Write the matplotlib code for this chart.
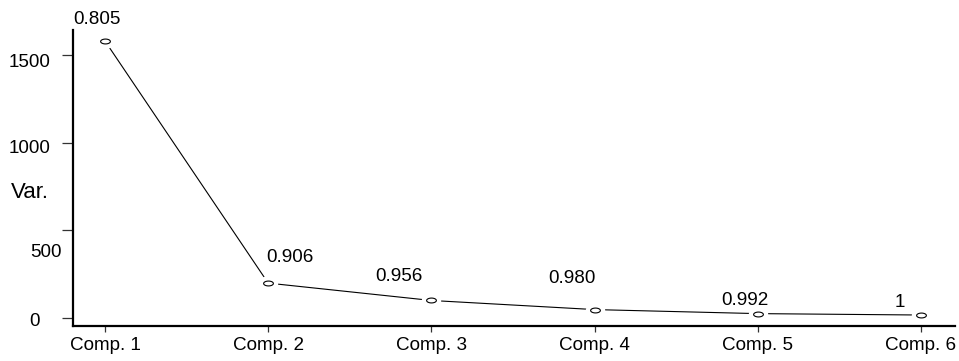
import numpy as np
import matplotlib
matplotlib.use("Agg")
import matplotlib.pyplot as plt
from matplotlib.path import Path

plt.rcParams['font.family'] = ['Liberation Sans', 'DejaVu Sans']

# ---- data ----
components = ["Comp. 1", "Comp. 2", "Comp. 3", "Comp. 4", "Comp. 5", "Comp. 6"]
variances = [1580, 199, 100, 48, 25, 17]
cum_labels = ["0.805", "0.906", "0.956", "0.980", "0.992", "1"]
ytick_values = [0, 500, 1000, 1500]
ytick_labels = ["0", "500", "1000", "1500"]

# ---- label placement (pixel offsets) ----
cum_offsets = [(-8, 22), (22, 26), (-32, 24), (-23, 31), (-13, 13), (-21, 13)]
ytick_offsets = [(-39, -3), (-27, -22), (-43, -6), (-43, -7)]

FS = 13.6

fig = plt.figure(figsize=(9.59, 3.61), dpi=100)
ax = fig.add_axes([73/959, 1 - 326/361, (955-73)/959, (326-30)/361])

x = np.arange(1, len(components) + 1)

# ellipse marker
t = np.linspace(0, 2*np.pi, 60)
ell = Path(np.column_stack([np.cos(t) * 1.0, np.sin(t) * 0.5]), closed=True)

ax.plot(x, variances, color='black', lw=0.8, zorder=1, solid_capstyle='butt')
ax.plot(x, variances, ls='none', marker=ell, markersize=7.0, mfc='white',
        mec='white', mew=7, zorder=2)
ax.plot(x, variances, ls='none', marker=ell, markersize=7.0, mfc='white',
        mec='black', mew=0.8, zorder=3)

for xi, yi, lab, (dx, dy) in zip(x, variances, cum_labels, cum_offsets):
    ax.annotate(lab, xy=(xi, yi), xytext=(dx * 0.72, dy * 0.72),
                textcoords='offset points', ha='center', va='center',
                fontsize=FS, annotation_clip=False)

ax.set_xlim(1 + (73 - 105) / 163.2, 6 + (955 - 921) / 163.2)
ax.set_ylim((318 - 326) / 0.1753, (318 - 30) / 0.1753)

ax.set_xticks(x)
ax.set_xticklabels(components, fontsize=FS)
ax.set_yticks(ytick_values)
ax.set_yticklabels([])
for val, lab, (dx, dy) in zip(ytick_values, ytick_labels, ytick_offsets):
    ax.annotate(lab, xy=(0, val), xycoords=('axes fraction', 'data'),
                xytext=(dx * 0.72, dy * 0.72), textcoords='offset points',
                ha='center', va='center', fontsize=FS, annotation_clip=False)

ax.tick_params(axis='y', direction='out', length=8, width=0.9, color='#333333')
ax.tick_params(axis='x', direction='out', length=4.5, width=0.9, color='#333333', pad=3.5)

for s in ['top', 'right']:
    ax.spines[s].set_visible(False)
for s in ['left', 'bottom']:
    ax.spines[s].set_linewidth(1.6)
    ax.spines[s].set_capstyle('projecting')

fig.text(30/959, 1 - 192/361, "Var.", fontsize=16, ha='center', va='center')

fig.savefig("out.png", dpi=100)
